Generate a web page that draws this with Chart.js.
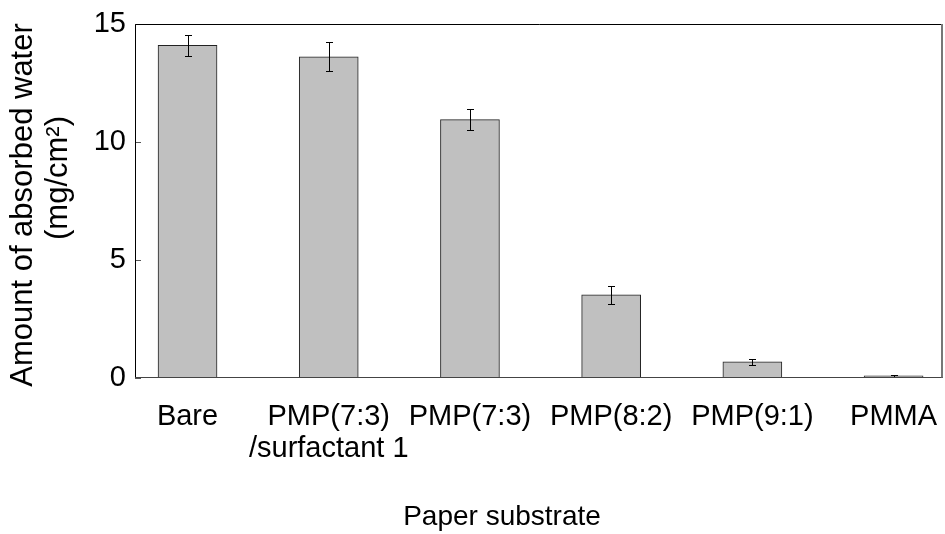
<!DOCTYPE html>
<html>
<head>
<meta charset="utf-8">
<script src="https://cdn.jsdelivr.net/npm/chart.js@4"></script>
<style>
  html, body { margin: 0; padding: 0; background: #fff; }
  #wrap { width: 945px; height: 534px; }
</style>
</head>
<body>
<div id="wrap"><canvas id="c" width="945" height="534"></canvas></div>
<script>
// ---- data ----
const categories = [["Bare"], ["PMP(7:3)", "/surfactant 1"], ["PMP(7:3)"], ["PMP(8:2)"], ["PMP(9:1)"], ["PMMA"]];
const absorbed = [14.09, 13.61, 10.94, 3.51, 0.66, 0.07];
const errors = [0.45, 0.61, 0.44, 0.38, 0.12, 0.03];
const yTicks = [0, 5, 10, 15];
const yTitleLines = ["Amount of absorbed water", "(mg/cm\u00B2)"];
const xTitle = "Paper substrate";

const FONT = "'Liberation Sans', Arial, sans-serif";

const framePlugin = {
  id: 'frame',
  afterDatasetsDraw(chart) {
    const { ctx, chartArea: a, scales } = chart;
    const y = scales.y;
    ctx.save();
    ctx.strokeStyle = '#555';
    ctx.lineWidth = 1;
    yTicks.forEach(v => {
      const py = Math.round(y.getPixelForValue(v)) + 0.5;
      ctx.beginPath();
      ctx.moveTo(a.left, py);
      ctx.lineTo(a.left + 6, py);
      ctx.stroke();
    });
    const meta = chart.getDatasetMeta(0);
    ctx.strokeStyle = '#000';
    ctx.lineWidth = 1;
    meta.data.forEach((bar, i) => {
      const x = Math.round(bar.x) + 0.5;
      const yt = Math.round(y.getPixelForValue(absorbed[i] + errors[i])) + 0.5;
      const yb = Math.round(y.getPixelForValue(absorbed[i] - errors[i])) + 0.5;
      ctx.beginPath();
      ctx.moveTo(x, yt); ctx.lineTo(x, yb);
      ctx.moveTo(x - 3.5, yt); ctx.lineTo(x + 3.5, yt);
      ctx.moveTo(x - 3.5, yb); ctx.lineTo(x + 3.5, yb);
      ctx.stroke();
    });
    ctx.strokeStyle = '#000';
    ctx.beginPath();
    ctx.moveTo(a.left + 0.5, a.bottom); ctx.lineTo(a.left + 0.5, a.top + 0.5); ctx.lineTo(a.right, a.top + 0.5);
    ctx.stroke();
    ctx.strokeStyle = '#444';
    ctx.beginPath();
    ctx.moveTo(a.left, a.bottom); ctx.lineTo(a.right, a.bottom);
    ctx.stroke();
    ctx.strokeStyle = '#777';
    ctx.lineWidth = 2;
    ctx.beginPath();
    ctx.moveTo(a.right - 1, a.top); ctx.lineTo(a.right - 1, a.bottom);
    ctx.stroke();
    ctx.fillStyle = '#000';
    ctx.textAlign = 'center';
    ctx.textBaseline = 'middle';
    ctx.font = "31px " + FONT;
    ctx.save();
    ctx.translate(23, 205);
    ctx.rotate(-Math.PI / 2);
    ctx.fillText(yTitleLines[0], 0, 0);
    ctx.restore();
    ctx.save();
    ctx.translate(58, 178);
    ctx.rotate(-Math.PI / 2);
    ctx.fillText(yTitleLines[1], 0, 0);
    ctx.restore();
    ctx.font = "28px " + FONT;
    ctx.fillText(xTitle, 502, 517);
    ctx.restore();
  }
};

new Chart(document.getElementById('c'), {
  type: 'bar',
  data: {
    datasets: [{
      data: absorbed.map((v, i) => ({ x: i, y: v })),
      backgroundColor: '#c0c0c0',
      borderColor: '#222',
      borderWidth: 1,
      borderSkipped: 'start',
      barThickness: 59
    }]
  },
  options: {
    responsive: false,
    animation: false,
    devicePixelRatio: 1,
    layout: { padding: { top: 24, right: 2, left: 0, bottom: 0 } },
    plugins: { legend: { display: false }, tooltip: { enabled: false } },
    scales: {
      x: {
        type: 'linear',
        offset: false,
        min: -0.372,
        max: 5.35,
        grid: { display: false, drawTicks: false, offset: false },
        border: { display: false },
        afterBuildTicks: s => { s.ticks = categories.map((c, i) => ({ value: i })); },
        afterFit: s => { s.height = 156.5; s.paddingLeft = 0; s.paddingRight = 0; },
        ticks: {
          autoSkip: false,
          maxRotation: 0,
          minRotation: 0,
          padding: 23,
          color: '#000',
          font: { family: FONT, size: 29, lineHeight: 1.12 },
          callback: v => categories[v]
        }
      },
      y: {
        min: 0,
        max: 15,
        grid: { display: false, drawTicks: false },
        border: { display: false },
        afterBuildTicks: s => { s.ticks = yTicks.map(v => ({ value: v })); },
        afterFit: s => { s.width = 135; s.paddingTop = 0; s.paddingBottom = 0; },
        ticks: {
          padding: 9,
          color: '#000',
          font: { family: FONT, size: 29 }
        }
      }
    }
  },
  plugins: [framePlugin]
});
</script>
</body>
</html>
